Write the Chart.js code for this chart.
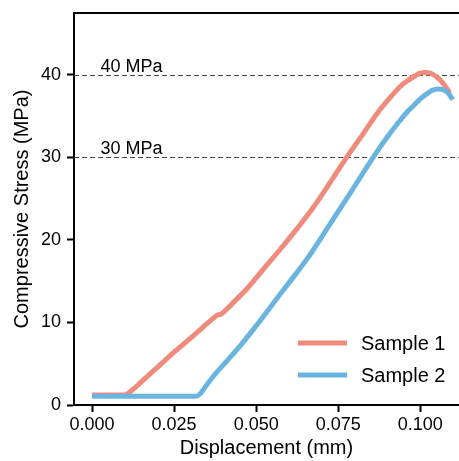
<!DOCTYPE html>
<html>
<head>
<meta charset="utf-8">
<script src="https://cdn.jsdelivr.net/npm/chart.js@4/dist/chart.umd.min.js"></script>
<style>
  html, body { margin: 0; padding: 0; background: #fff; }
  #wrap { width: 459px; height: 461px; position: relative; }
</style>
</head>
<body>
<div id="wrap"><canvas id="c" width="459" height="461"></canvas></div>
<script>
// ---- data ----
const sample1X = [0, 0.0050, 0.0098, 0.0125, 0.0150, 0.0200, 0.0250, 0.0300, 0.0340, 0.0375, 0.0385, 0.0393, 0.0402, 0.0440, 0.0470, 0.0523, 0.0574, 0.0625, 0.0675, 0.0731, 0.0777, 0.0825, 0.0868, 0.0905, 0.0939, 0.0965, 0.0985, 0.1000, 0.1015, 0.1030, 0.1045, 0.1060, 0.1075, 0.1090];
const sample1Y = [1.2, 1.2, 1.2, 1.9, 2.8, 4.6, 6.4, 8.1, 9.5, 10.7, 10.95, 11.0, 11.3, 12.8, 14.0, 16.5, 18.9, 21.4, 24.0, 27.3, 30.1, 32.8, 35.3, 37.1, 38.6, 39.4, 39.9, 40.2, 40.3, 40.2, 39.9, 39.4, 38.7, 37.8];
const sample2X = [0, 0.0100, 0.0200, 0.0316, 0.0328, 0.0345, 0.0370, 0.0410, 0.0448, 0.0500, 0.0565, 0.0625, 0.0655, 0.0720, 0.0787, 0.0858, 0.0900, 0.0939, 0.0960, 0.0980, 0.1000, 0.1020, 0.1035, 0.1055, 0.1070, 0.1085, 0.1099];
const sample2Y = [1.05, 1.05, 1.05, 1.05, 1.3, 2.2, 3.5, 5.3, 7.0, 9.6, 13.0, 16.1, 17.7, 21.6, 25.7, 30.1, 32.5, 34.5, 35.5, 36.3, 37.1, 37.7, 38.1, 38.3, 38.2, 37.8, 37.0];
const seriesNames = ['Sample 1', 'Sample 2'];
const xTickValues = [0, 0.025, 0.05, 0.075, 0.1];
const yTickValues = [0, 10, 20, 30, 40];
const refLineValues = [30, 40];
const refLineLabels = ['30 MPa', '40 MPa'];
const xLabel = 'Displacement (mm)';
const yLabel = 'Compressive Stress (MPa)';

const colors = ['rgb(239,139,124)', 'rgb(108,180,224)'];
const FONT = "'Liberation Sans', Arial, Helvetica, sans-serif";

function pts(xs, ys) { return xs.map((x, i) => ({ x: x, y: ys[i] })); }

const overlay = {
  id: 'overlay',
  beforeDatasetsDraw(chart) {
    const { ctx, chartArea: a, scales } = chart;
    ctx.save();
    ctx.strokeStyle = '#444';
    ctx.lineWidth = 1.2;
    ctx.setLineDash([5, 3]);
    refLineValues.forEach((v) => {
      const y = Math.round(scales.y.getPixelForValue(v)) + 0.5;
      ctx.beginPath();
      ctx.moveTo(a.left, y);
      ctx.lineTo(a.right, y);
      ctx.stroke();
    });
    ctx.setLineDash([]);
    ctx.fillStyle = '#000';
    ctx.font = '18px ' + FONT;
    ctx.textAlign = 'left';
    ctx.textBaseline = 'alphabetic';
    refLineValues.forEach((v, i) => {
      const y = scales.y.getPixelForValue(v) - 3;
      const x = scales.x.getPixelForValue(0.0026);
      ctx.fillText(refLineLabels[i], x, y);
    });
    ctx.restore();
  },
  afterDraw(chart) {
    const { ctx, chartArea: a } = chart;
    ctx.save();
    ctx.strokeStyle = '#000';
    ctx.lineWidth = 2;
    ctx.beginPath();
    ctx.moveTo(a.left - 1, a.top);
    ctx.lineTo(a.right, a.top);
    ctx.stroke();
    const lx0 = a.right - 161, lx1 = a.right - 112, tx = a.right - 98;
    const rows = [a.bottom - 62, a.bottom - 30];
    ctx.font = '20px ' + FONT;
    ctx.textBaseline = 'middle';
    ctx.textAlign = 'left';
    seriesNames.forEach((name, i) => {
      ctx.strokeStyle = colors[i];
      ctx.lineWidth = 5;
      ctx.beginPath();
      ctx.moveTo(lx0, rows[i]);
      ctx.lineTo(lx1, rows[i]);
      ctx.stroke();
      ctx.fillStyle = '#000';
      ctx.fillText(name, tx, rows[i] + 1);
    });
    ctx.restore();
  }
};

new Chart(document.getElementById('c'), {
  type: 'line',
  data: {
    datasets: [
      { label: seriesNames[0], data: pts(sample1X, sample1Y), borderColor: colors[0], backgroundColor: colors[0],
        borderWidth: 5, pointRadius: 0, cubicInterpolationMode: 'monotone', borderJoinStyle: 'round', fill: false, order: 1 },
      { label: seriesNames[1], data: pts(sample2X, sample2Y), borderColor: colors[1], backgroundColor: colors[1],
        borderWidth: 5, pointRadius: 0, cubicInterpolationMode: 'monotone', borderJoinStyle: 'round', fill: false, order: 0 }
    ]
  },
  options: {
    responsive: false,
    animation: false,
    devicePixelRatio: 1,
    layout: { padding: { left: 0, right: 0, top: 13, bottom: 0 } },
    plugins: { legend: { display: false }, tooltip: { enabled: false } },
    scales: {
      x: {
        type: 'linear',
        min: -0.0055,
        max: 0.1118,
        afterBuildTicks: ax => { ax.ticks = xTickValues.map(v => ({ value: v })); },
        afterFit: ax => { ax.height = 56; ax.paddingLeft = 0; ax.paddingRight = 0; },
        ticks: { color: '#000', font: { family: FONT, size: 18 }, padding: 2, maxRotation: 0,
                 callback: v => Number(v).toFixed(3) },
        grid: { display: true, drawOnChartArea: false, drawTicks: true, tickLength: 7, tickWidth: 2, tickColor: '#000' },
        border: { display: true, color: '#000', width: 2 },
        title: { display: true, text: xLabel, color: '#000', font: { family: FONT, size: 20 }, padding: { top: 0, bottom: 1 } }
      },
      y: {
        type: 'linear',
        min: 0,
        max: 47.5,
        afterBuildTicks: ax => { ax.ticks = yTickValues.map(v => ({ value: v })); },
        afterFit: ax => { ax.width = 74; ax.paddingTop = 0; ax.paddingBottom = 0; },
        ticks: { color: '#000', font: { family: FONT, size: 18 }, padding: 6 },
        grid: { display: true, drawOnChartArea: false, drawTicks: true, tickLength: 7, tickWidth: 2, tickColor: '#000' },
        border: { display: true, color: '#000', width: 2 },
        title: { display: true, text: yLabel, color: '#000', font: { family: FONT, size: 20 }, padding: { top: 10, bottom: 0 } }
      }
    }
  },
  plugins: [overlay]
});
</script>
</body>
</html>
